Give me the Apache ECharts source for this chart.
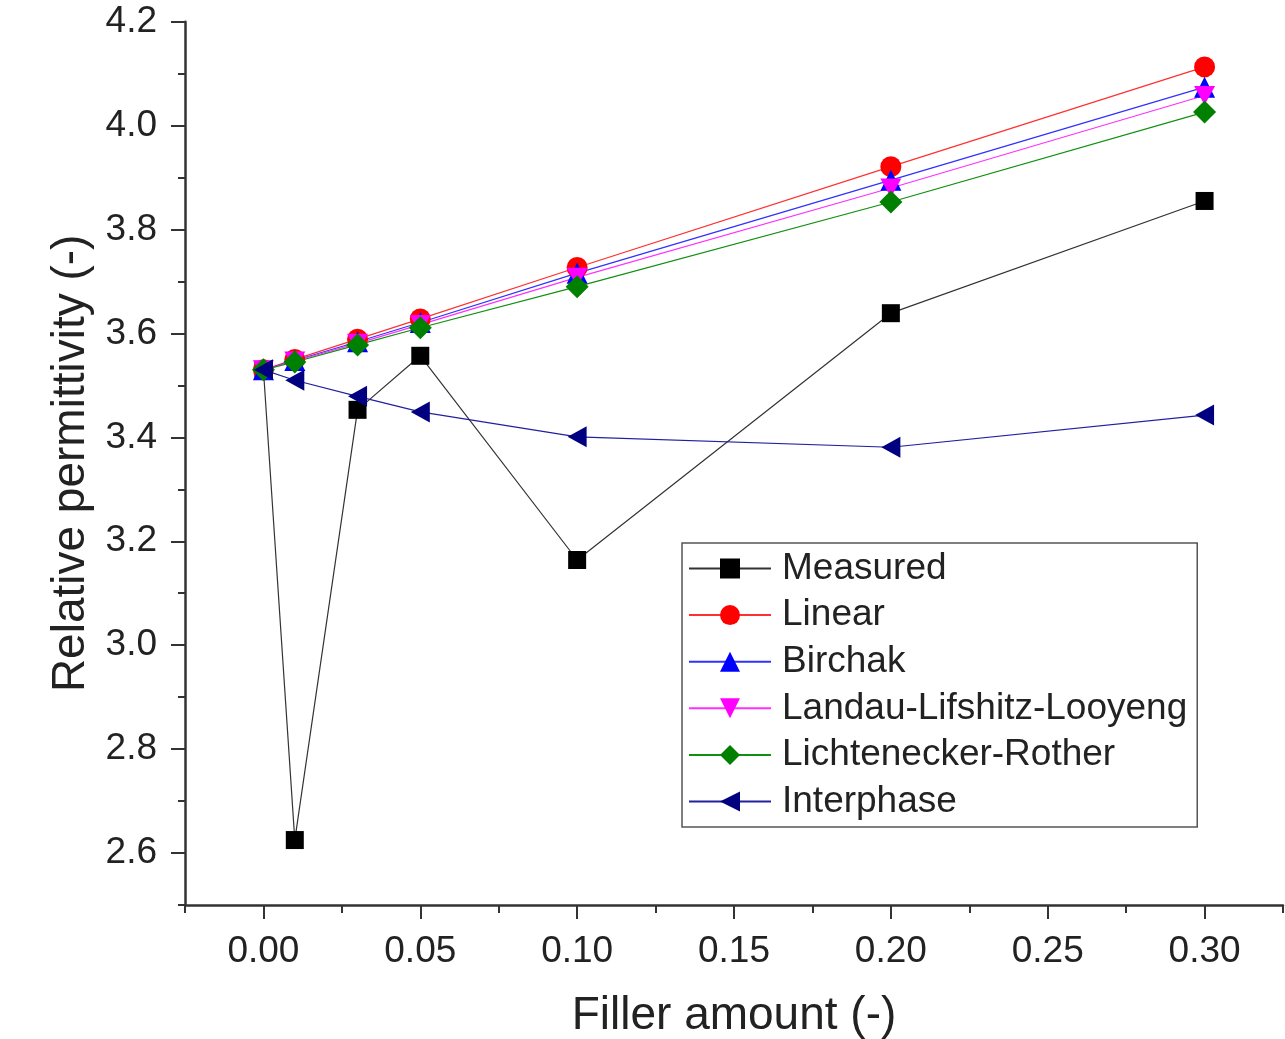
<!DOCTYPE html>
<html>
<head>
<meta charset="utf-8">
<script src="https://cdn.jsdelivr.net/npm/echarts@6/dist/echarts.min.js"></script>
<style>
html,body{margin:0;padding:0;background:#fff;}
#chart{width:1285px;height:1039px;}
</style>
</head>
<body>
<div id="chart"></div>
<script>
const fillerAmount = [0, 0.01, 0.03, 0.05, 0.10, 0.20, 0.30];
const measured   = [3.530, 2.625, 3.453, 3.557, 3.164, 3.639, 3.855];
const linear     = [3.530, 3.550, 3.589, 3.628, 3.727, 3.921, 4.113];
const birchak    = [3.530, 3.548, 3.584, 3.621, 3.716, 3.895, 4.074];
const lll        = [3.530, 3.547, 3.581, 3.617, 3.708, 3.880, 4.058];
const lichRother = [3.530, 3.545, 3.578, 3.611, 3.690, 3.853, 4.026];
const interphase = [3.530, 3.510, 3.479, 3.449, 3.401, 3.381, 3.443];

const xMajorTicks = [0, 0.05, 0.10, 0.15, 0.20, 0.25, 0.30];
const xMinorTicks = [-0.025, 0.025, 0.075, 0.125, 0.175, 0.225, 0.275, 0.325];
const yMajorTicks = [2.6, 2.8, 3.0, 3.2, 3.4, 3.6, 3.8, 4.0, 4.2];
const yMinorTicks = [2.5, 2.7, 2.9, 3.1, 3.3, 3.5, 3.7, 3.9, 4.1];

const FONT = '"Liberation Sans", Arial, sans-serif';
const axisColor = '#333';

function pairs(ys){ return fillerAmount.map((x,i)=>[x, ys[i]]); }

const seriesDefs = [
  {name:'Measured', data:measured, color:'#000000', line:'#333333', symbol:'rect', size:18},
  {name:'Linear', data:linear, color:'#ff0000', line:'#ff3030', symbol:'circle', size:21},
  {name:'Birchak', data:birchak, color:'#0000ff', line:'#3030ff', symbol:'triangle', size:21},
  {name:'Landau-Lifshitz-Looyeng', data:lll, color:'#ff00ff', line:'#ff30ff', symbol:'path://M0,0 L2,0 L1,1.8 Z', size:[21,19]},
  {name:'Lichtenecker-Rother', data:lichRother, color:'#008000', line:'#109010', symbol:'diamond', size:23},
  {name:'Interphase', data:interphase, color:'#000080', line:'#2020a0', symbol:'path://M1.8,0 L1.8,2 L0,1 Z', size:[19,21]}
];

const chart = echarts.init(document.getElementById('chart'), null, {renderer:'canvas'});

const xBase = {
  type:'value', min:-0.025, max:0.325, interval:0.025, position:'bottom',
  splitLine:{show:false}
};
const yBase = {
  type:'value', min:2.5, max:4.2, interval:0.1, position:'left',
  splitLine:{show:false}
};

chart.setOption({
  animation:false,
  backgroundColor:'#ffffff',
  grid:{left:185, right:2, top:21.7, bottom:134, containLabel:false, outerBoundsMode:'none'},
  xAxis:[
    Object.assign({}, xBase, {
      name:'Filler amount (-)', nameLocation:'middle', nameGap:88,
      nameTextStyle:{fontFamily:FONT, fontSize:46, color:'#222', verticalAlign:'top'},
      axisLine:{show:true, onZero:false, lineStyle:{color:axisColor, width:2.5}},
      axisTick:{show:true, customValues:xMajorTicks, length:14, lineStyle:{color:axisColor, width:2}},
      axisLabel:{show:true, customValues:xMajorTicks, margin:28, fontFamily:FONT, fontSize:37, color:'#222',
        formatter:v=>v.toFixed(2)}
    }),
    Object.assign({}, xBase, {
      axisLine:{show:false, onZero:false},
      axisTick:{show:true, customValues:xMinorTicks, length:8, lineStyle:{color:axisColor, width:2}},
      axisLabel:{show:false}
    })
  ],
  yAxis:[
    Object.assign({}, yBase, {
      name:'Relative permittivity (-)', nameLocation:'middle', nameGap:88, nameRotate:90,
      nameTextStyle:{fontFamily:FONT, fontSize:46, color:'#222'},
      axisLine:{show:true, onZero:false, lineStyle:{color:axisColor, width:2.5}},
      axisTick:{show:true, customValues:yMajorTicks, length:14, lineStyle:{color:axisColor, width:2}},
      axisLabel:{show:true, customValues:yMajorTicks, margin:28, fontFamily:FONT, fontSize:37, color:'#222',
        formatter:v=>v.toFixed(1)}
    }),
    Object.assign({}, yBase, {
      axisLine:{show:false, onZero:false},
      axisTick:{show:true, customValues:yMinorTicks, length:7, lineStyle:{color:axisColor, width:2}},
      axisLabel:{show:false}
    })
  ],
  legend:{
    show:true, orient:'vertical', left:682, top:543,
    padding:[7,10,7,6],
    borderColor:'#555', borderWidth:1.5, backgroundColor:'#fff',
    itemWidth:82, itemHeight:25, itemGap:9.6,
    selectedMode:false,
    textStyle:{fontFamily:FONT, fontSize:37, color:'#222', padding:[0,0,0,6]},
    data:seriesDefs.map(s=>s.name)
  },
  series: seriesDefs.map(s=>({
    name:s.name, type:'line', xAxisIndex:0, yAxisIndex:0,
    data:pairs(s.data),
    symbol:s.symbol, symbolSize:s.size, showSymbol:true,
    lineStyle:{color:s.line, width:1.2},
    itemStyle:{color:s.color},
    emphasis:{disabled:true},
    z:2
  }))
});
</script>
</body>
</html>
